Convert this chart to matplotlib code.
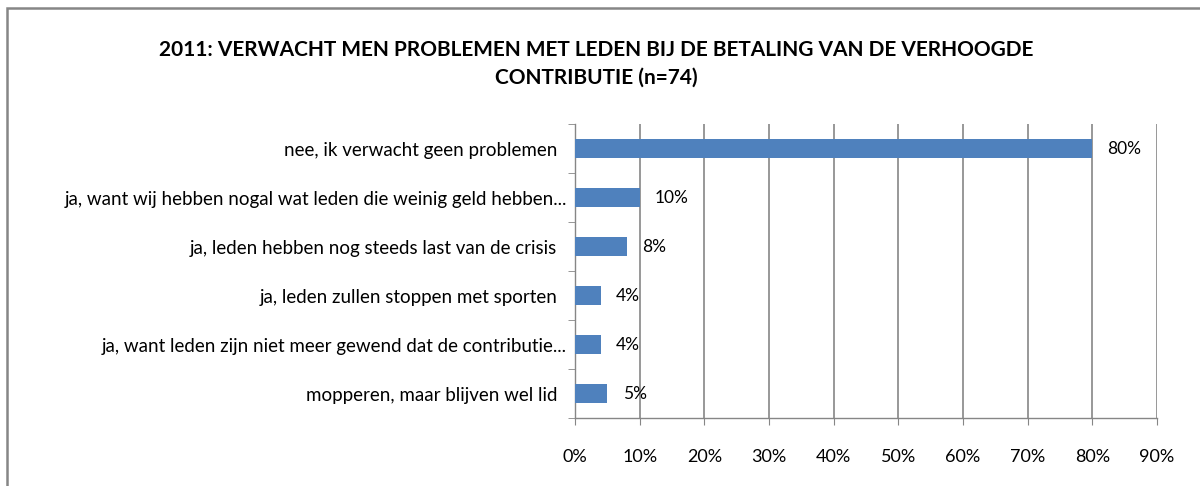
import matplotlib
matplotlib.use('Agg')
import matplotlib.pyplot as plt
from matplotlib.patches import Rectangle
from matplotlib.ticker import MultipleLocator, PercentFormatter

# Data
categories = [
    'nee, ik verwacht geen problemen  ',
    'ja, want wij hebben nogal wat leden die weinig geld hebben...',
    'ja, leden hebben nog steeds last van de crisis  ',
    'ja, leden zullen stoppen met sporten  ',
    'ja, want leden zijn niet meer gewend dat de contributie...',
    'mopperen, maar blijven wel lid  ',
]
values = [80, 10, 8, 4, 4, 5]
value_labels = ['80%', '10%', '8%', '4%', '4%', '5%']
title = '2011: VERWACHT MEN PROBLEMEN MET LEDEN BIJ DE BETALING VAN DE VERHOOGDE\nCONTRIBUTIE (n=74)'

bar_color = '#4F81BD'
grid_color = '#868686'

plt.rcParams['font.family'] = ['Lato', 'DejaVu Sans']

fig = plt.figure(figsize=(12, 4.86), dpi=100)
ax = fig.add_axes([575 / 1200, 1 - 418 / 486, (1157 - 575) / 1200, (418 - 124) / 486])

# Outer chart border (only top and left visible in the reference)
fig.patches.append(Rectangle((7 / 1200, -0.1), 1.2, 1 - 8 / 486 + 0.1,
                             transform=fig.transFigure, fill=False,
                             edgecolor=grid_color, linewidth=1.8))

y = list(range(len(categories)))
ax.barh(y, values, height=0.4, color=bar_color, zorder=3)

for yi, v, lab in zip(y, values, value_labels):
    ax.annotate(lab, (v, yi), xytext=(11, 0), textcoords='offset points',
                ha='left', va='center', fontsize=12.5, color='black')

ax.set_xlim(0, 90)
ax.set_ylim(len(categories) - 0.5, -0.5)
ax.xaxis.set_major_locator(MultipleLocator(10))
ax.xaxis.set_major_formatter(PercentFormatter(decimals=0))
ax.set_yticks(y)
ax.set_yticklabels(categories)
ax.set_yticks([i - 0.5 for i in range(len(categories) + 1)], minor=True)

ax.grid(axis='x', color=grid_color, linewidth=1.2, zorder=0)
ax.set_axisbelow(True)
for side in ['top', 'right']:
    ax.spines[side].set_visible(False)
for side in ['left', 'bottom']:
    ax.spines[side].set_color(grid_color)
    ax.spines[side].set_linewidth(1)

ax.tick_params(axis='y', which='major', length=0, pad=6, labelsize=13.5)
ax.tick_params(axis='y', which='minor', length=5, color=grid_color, direction='out')
ax.tick_params(axis='x', which='major', length=5, color=grid_color, pad=17, labelsize=13)

fig.text(0.497, 1 - 64 / 486, title, ha='center', va='center', fontsize=15,
         fontweight='bold', linespacing=1.5)

fig.savefig('out.png', dpi=100)
